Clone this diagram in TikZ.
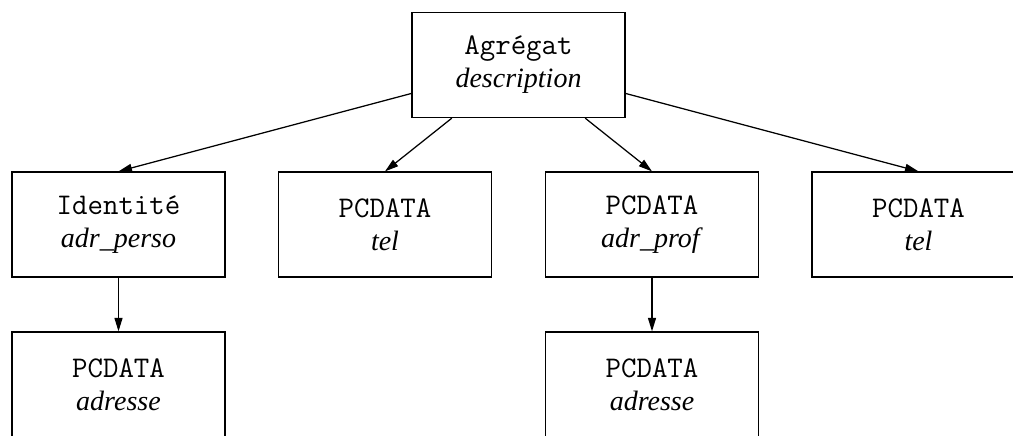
\documentclass[tikz,border=0pt]{standalone}
\usepackage{fontspec}
\setmainfont{Liberation Serif}
\usetikzlibrary{arrows.meta}
\newcommand{\typ}[1]{{\ttfamily\fontsize{12pt}{13.2pt}\selectfont #1}}
\begin{document}
\begin{tikzpicture}[x=0.4pt, y=-0.4pt,
    elem/.style={draw, line width=0.5pt, minimum width=85.2pt, minimum height=42pt,
      inner sep=0pt, align=center, font=\fontsize{11.2pt}{13.2pt}\selectfont},
    fils/.style={-{Triangle[length=5.4pt,width=3.2pt]}, line width=0.5pt}]
    \useasboundingbox (0,0) rectangle (1013,435);
    % racine
    \node[elem] (agregat) at (518.5,65) {\typ{Agrégat}\\\textit{description}};
    % sous-elements
    \node[elem] (identite) at (118.5,224.5) {\typ{Identité}\\\textit{adr\_perso}};
    \node[elem] (tel1) at (385,224.5) {\typ{PCDATA}\\\textit{tel}};
    \node[elem] (prof) at (652,224.5) {\typ{PCDATA}\\\textit{adr\_prof}};
    \node[elem] (tel2) at (918.5,224.5) {\typ{PCDATA}\\\textit{tel}};
    \node[elem] (adr1) at (118.5,384.5) {\typ{PCDATA}\\\textit{adresse}};
    \node[elem] (adr2) at (652,384.5) {\typ{PCDATA}\\\textit{adresse}};
    \foreach \f in {identite,tel1,prof,tel2} \draw[fils] (agregat) -- (\f.north);
    \draw[fils] (identite) -- (adr1);
    \draw[fils] (prof) -- (adr2);
\end{tikzpicture}
\end{document}
